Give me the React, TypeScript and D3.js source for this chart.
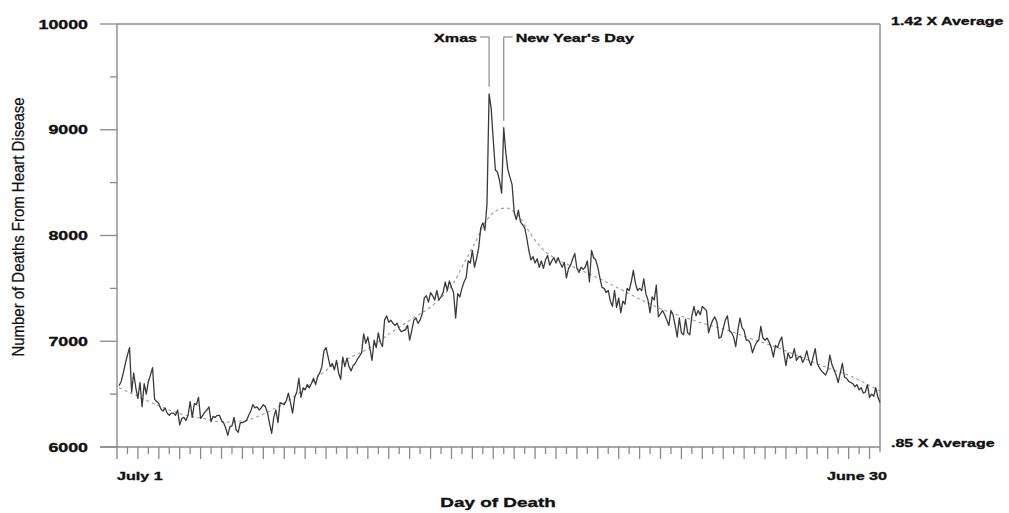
import React from 'react';
import * as d3 from 'd3';

// Daily deaths from heart disease, July 1 (index 0) to June 30 (index 364)
const dailyDeaths: number[] = [
  6580, 6620, 6700, 6790, 6870, 6940, 6520, 6700, 6560, 6460,
  6610, 6380, 6600, 6500, 6620, 6680, 6750, 6450, 6430, 6410,
  6360, 6340, 6370, 6320, 6300, 6320, 6320, 6300, 6350, 6210,
  6270, 6280, 6250, 6300, 6430, 6280, 6410, 6400, 6470, 6270,
  6300, 6330, 6350, 6380, 6240, 6290, 6280, 6300, 6300, 6250,
  6230, 6180, 6110, 6190, 6200, 6280, 6160, 6140, 6230, 6230,
  6240, 6250, 6300, 6340, 6400, 6370, 6380, 6350, 6370, 6400,
  6380, 6320, 6220, 6130, 6280, 6350, 6230, 6420, 6410, 6400,
  6440, 6510, 6420, 6320, 6470, 6520, 6650, 6470, 6560, 6540,
  6590, 6560, 6600, 6650, 6590, 6670, 6700, 6760, 6910, 6940,
  6850, 6760, 6790, 6730, 6820, 6700, 6640, 6850, 6760, 6840,
  6760, 6720, 6770, 6790, 6830, 6860, 6890, 7070, 6980, 7040,
  6930, 6820, 7010, 6940, 7080, 6990, 6950, 7200, 7240, 7180,
  7200, 7170, 7150, 7170, 7120, 7090, 7100, 7110, 7150, 7010,
  7100, 7200, 7220, 7170, 7200, 7260, 7410, 7430, 7370, 7460,
  7430, 7390, 7480, 7390, 7420, 7460, 7560, 7480, 7570, 7510,
  7460, 7220, 7450, 7420, 7500, 7560, 7600, 7760, 7740, 7860,
  7700, 7780, 7880, 8070, 8120, 8050, 8300, 9340, 9200, 8900,
  8620, 8600, 8520, 8400, 9020, 8780, 8620, 8550, 8480, 8220,
  8150, 8240, 8130, 8100, 8075, 7980, 7860, 7770, 7800, 7740,
  7780, 7700, 7760, 7690, 7770, 7810, 7720, 7760, 7790, 7740,
  7790, 7740, 7700, 7745, 7600, 7690, 7720, 7780, 7830, 7690,
  7650, 7700, 7680, 7700, 7760, 7560, 7860, 7790, 7770, 7700,
  7600, 7510, 7500, 7460, 7480, 7380, 7330, 7480, 7320, 7410,
  7270, 7380, 7350, 7500, 7480, 7560, 7670, 7550, 7480, 7500,
  7480, 7590, 7450, 7390, 7270, 7420, 7390, 7530, 7230, 7260,
  7290, 7250, 7200, 7150, 7290, 7250, 7150, 7040, 7220, 7080,
  7060, 7210, 7080, 7060, 7240, 7330, 7240, 7290, 7250, 7330,
  7310, 7290, 7080, 7150, 7200, 7230, 7180, 7030, 7040, 7120,
  7200, 7240, 7100, 7080, 7040, 6950, 7100, 7220, 7130, 7100,
  7010, 7010, 6980, 6890, 6950, 6990, 7010, 7140, 7030, 7010,
  7030, 6990, 6940, 6850, 6960, 6940, 7000, 7040, 6890, 6770,
  6890, 6840, 6850, 6930, 6820, 6850, 6860, 6800, 6840, 6910,
  6820, 6770, 6850, 6930, 6790, 6750, 6720, 6700, 6680, 6730,
  6870, 6780, 6730, 6680, 6610, 6700, 6790, 6660, 6650, 6620,
  6610, 6600, 6570, 6590, 6540, 6560, 6510, 6520, 6590, 6470,
  6500, 6480, 6560, 6470, 6420,
];

// Smoothed (expected) trend, dotted line
const trendDays: number[] = [0, 10, 20, 30, 40, 50, 60, 70, 80, 90, 100, 110, 120, 130, 140, 150, 155, 160, 165, 170, 175, 180, 185, 190, 195, 200, 205, 210, 220, 230, 240, 250, 260, 270, 280, 290, 300, 310, 320, 330, 340, 350, 360, 364];
const trendValues: number[] = [6560, 6470, 6380, 6310, 6270, 6235, 6250, 6320, 6430, 6570, 6740, 6840, 6940, 7080, 7210, 7340, 7430, 7550, 7740, 7920, 8120, 8230, 8260, 8210, 8070, 7930, 7830, 7770, 7680, 7590, 7490, 7390, 7300, 7230, 7165, 7110, 7040, 6975, 6900, 6820, 6740, 6670, 6570, 6530];

const yMajorTicks: number[] = [6000, 7000, 8000, 9000, 10000];
const yMinorTicks: number[] = [6500, 7500, 8500, 9500];
const xTickDays: number[] = d3.range(5, 365, 5);

const holidayLabels: string[] = ['Xmas', "New Year's Day"];
const holidayDays: number[] = [177, 184];

const rightLabels: string[] = ['1.42 X Average', '.85 X Average'];

const W = 1009;
const H = 513;
const left = 117;
const right = 880;
const top = 24;
const bottom = 447;
const SX = 1.39;
const FONT = '"Liberation Sans", Arial, sans-serif';

export default function App() {
  const x = d3.scaleLinear().domain([0, 365]).range([left, right]);
  const y = d3.scaleLinear().domain([6000, 10000]).range([bottom, top]);

  const line = d3
    .line<number>()
    .x((_, i) => x(i + 1))
    .y((d) => y(d));

  const trendLine = d3
    .line<number>()
    .x((_, i) => x(trendDays[i] + 1))
    .y((d) => y(d))
    .curve(d3.curveMonotoneX);

  const axisColor = '#8a8a8a';

  const boldText = (
    label: string,
    tx: number,
    ty: number,
    anchor: 'start' | 'middle' | 'end',
    size: number,
    key?: string
  ) => (
    <text
      key={key}
      transform={`translate(${tx},${ty}) scale(${SX},1)`}
      textAnchor={anchor}
      fontFamily={FONT}
      fontWeight="bold"
      fontSize={size}
      fill="#111"
      stroke="#111"
      strokeWidth={0.35}
    >
      {label}
    </text>
  );

  return (
    <svg
      width={W}
      height={H}
      style={{ position: 'absolute', left: 0, top: 0, background: '#fff' }}
    >
      <rect x={0} y={0} width={W} height={H} fill="#fff" />

      {/* frame */}
      <line x1={left} y1={top} x2={right} y2={top} stroke={axisColor} strokeWidth={1.4} />
      <line x1={right} y1={top} x2={right} y2={bottom + 5} stroke={axisColor} strokeWidth={1.4} />
      <line x1={100} y1={bottom} x2={right} y2={bottom} stroke={axisColor} strokeWidth={1.4} />
      <line x1={left} y1={top} x2={left} y2={bottom + 12} stroke={axisColor} strokeWidth={1.4} />

      {/* y ticks */}
      {yMajorTicks.map((t) => (
        <g key={`yt${t}`}>
          <line x1={100} y1={y(t)} x2={left} y2={y(t)} stroke={axisColor} strokeWidth={1.3} />
          {boldText(String(t), 88, y(t) + 4.6, 'end', 12.8)}
        </g>
      ))}
      {yMinorTicks.map((t) => (
        <line key={`ym${t}`} x1={110} y1={y(t)} x2={left} y2={y(t)} stroke={axisColor} strokeWidth={1.3} />
      ))}

      {/* x ticks */}
      {xTickDays.map((d, i) => (
        <line
          key={`xt${d}`}
          x1={x(d)}
          y1={bottom}
          x2={x(d)}
          y2={i % 2 === 1 ? bottom + 12 : bottom + 7}
          stroke={axisColor}
          strokeWidth={1.3}
        />
      ))}

      {/* trend */}
      <path
        d={trendLine(trendValues) || ''}
        fill="none"
        stroke="#9a9a9a"
        strokeWidth={1.1}
        strokeDasharray="3,3"
      />

      {/* data */}
      <path
        d={line(dailyDeaths) || ''}
        fill="none"
        stroke="#3a3a3a"
        strokeWidth={1.3}
        strokeLinejoin="round"
      />

      {/* holiday annotations */}
      {holidayDays.map((d, i) => {
        const hx = x(d + 1);
        const yEnd = y(dailyDeaths[d]) - 7;
        const isLeft = i === 0;
        const hy = 37;
        return (
          <g key={`h${i}`}>
            <line
              x1={isLeft ? hx - 9 : hx}
              y1={hy}
              x2={isLeft ? hx : hx + 9}
              y2={hy}
              stroke={axisColor}
              strokeWidth={1.2}
            />
            <line x1={hx} y1={hy} x2={hx} y2={yEnd} stroke={axisColor} strokeWidth={1.2} />
            {boldText(
              holidayLabels[i],
              isLeft ? hx - 12 : hx + 12,
              42,
              isLeft ? 'end' : 'start',
              11.6
            )}
          </g>
        );
      })}

      {/* right labels */}
      {boldText(rightLabels[0], 891, 24.5, 'start', 11.5)}
      {boldText(rightLabels[1], 891, 447, 'start', 11.5)}

      {/* x labels */}
      {boldText('July 1', 117, 480, 'start', 11.6)}
      {boldText('June 30', 887, 480, 'end', 11.6)}
      {boldText('Day of Death', 498, 507, 'middle', 13.6)}

      {/* y axis title */}
      <text
        transform={`translate(24,227) rotate(-90) scale(0.89,1)`}
        textAnchor="middle"
        fontFamily={FONT}
        fontSize={16.8}
        fill="#111"
        stroke="#111"
        strokeWidth={0.25}
      >
        Number of Deaths From Heart Disease
      </text>
    </svg>
  );
}
